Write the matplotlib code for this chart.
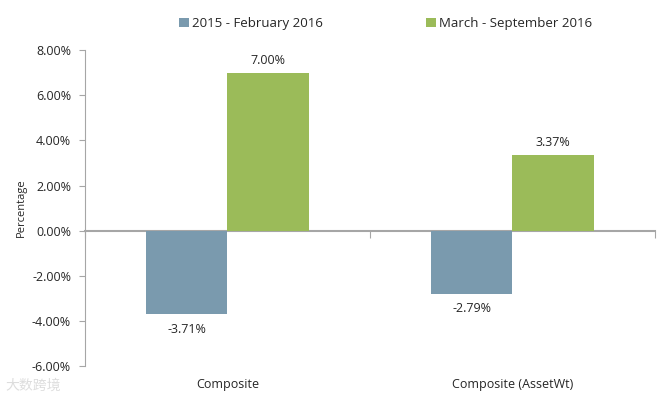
import numpy as np
import matplotlib
matplotlib.use('Agg')
import matplotlib.pyplot as plt
from matplotlib.transforms import blended_transform_factory

plt.rcParams['font.family'] = ['Open Sans', 'DejaVu Sans']

categories = ['Composite', 'Composite (AssetWt)']
series_names = ['2015 - February 2016', 'March - September 2016']
early = [-3.71, -2.79]
late = [7.00, 3.37]
yticks = [-6, -4, -2, 0, 2, 4, 6, 8]

blue = '#7A9AAE'
green = '#9BBB59'
grey = '#A6A6A6'
txt = '#262626'

fig = plt.figure(figsize=(6.67, 3.98), dpi=100)
ax = fig.add_axes([0.1274, 0.0804, 0.8546, 0.7936])

x = np.arange(len(categories))
w = 0.285
b1 = ax.bar(x - w/2, early, w, color=blue, label=series_names[0])
b2 = ax.bar(x + w/2, late, w, color=green, label=series_names[1])

for bars, vals in ((b1, early), (b2, late)):
    for r, v in zip(bars, vals):
        off = 4 if v >= 0 else -6
        ax.annotate('%.2f%%' % v, (r.get_x() + r.get_width()/2, v),
                    xytext=(0, off), textcoords='offset points',
                    ha='center', va='bottom' if v >= 0 else 'top',
                    fontsize=9, color=txt)

ax.set_xlim(-0.5, len(categories) - 0.5)
ax.set_ylim(-6, 8)
ax.set_yticks(yticks)
ax.set_yticklabels(['%.2f%%' % t for t in yticks], fontsize=9, color=txt)

# category axis crossing at zero, labels at the bottom
ax.spines['bottom'].set_position(('data', 0))
ax.spines['bottom'].set_color(grey)
ax.spines['bottom'].set_linewidth(1.5)
ax.spines['bottom'].set_zorder(0)
ax.spines['left'].set_color(grey)
ax.spines['top'].set_visible(False)
ax.spines['right'].set_visible(False)
ax.set_xticks(np.arange(len(categories) + 1) - 0.5)
ax.set_xticklabels([])
ax.tick_params(axis='x', length=5, color=grey, direction='out')
ax.tick_params(axis='y', length=4, color=grey, pad=6)

trans = blended_transform_factory(ax.transData, ax.transAxes)
for i, c in enumerate(categories):
    ax.text(i, -0.038, c, transform=trans, ha='center', va='top',
            fontsize=9, color=txt)

ax.set_ylabel('Percentage', fontsize=8, color=txt, labelpad=4)

ax.legend(loc='lower center', bbox_to_anchor=(0.528, 1.025), ncol=2,
          frameon=False, fontsize=9.5, handlelength=0.7, handleheight=0.7,
          handletextpad=0.3, columnspacing=7.8, labelcolor=txt)

fig.text(0.008, 0.02, '大数跨境', fontsize=10, color='#DDDDDD',
         family=['Noto Sans CJK SC', 'DejaVu Sans'])

plt.savefig('out.png', dpi=100)
plt.close()
